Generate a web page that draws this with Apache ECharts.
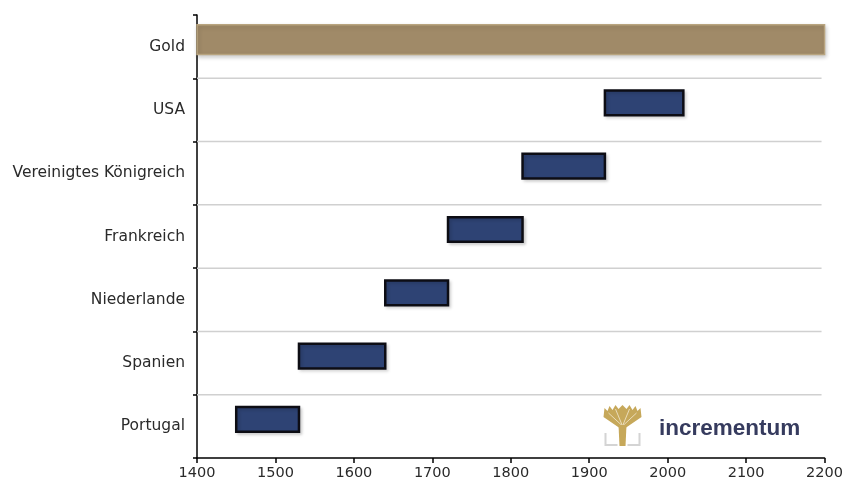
<!DOCTYPE html>
<html>
<head>
<meta charset="utf-8">
<script src="https://cdn.jsdelivr.net/npm/echarts@6/dist/echarts.min.js"></script>
<style>
  html, body { margin: 0; padding: 0; background: #fff; }
  #chart { width: 846px; height: 486px; }
</style>
</head>
<body>
<div id="chart"></div>
<script>
// Reserve-currency eras, bottom to top, plus gold spanning the whole axis
const categories = ['Portugal', 'Spanien', 'Niederlande', 'Frankreich', 'Vereinigtes Königreich', 'USA', 'Gold'];
const periodStart = [1450, 1530, 1640, 1720, 1815, 1920, 1400];
const periodEnd   = [1530, 1640, 1720, 1815, 1920, 2020, 2200];
const xTicks = { min: 1400, max: 2200, interval: 100 };

const goldIndex = categories.indexOf('Gold');
const eraData = [];
const goldData = [];
categories.forEach((c, i) => {
  const row = [i, periodStart[i], periodEnd[i]];
  if (i === goldIndex) goldData.push(row); else eraData.push(row);
});
// separators sit under every row except the bottom one
const separatorRows = categories.map((c, i) => [i]).slice(1);

// Bars sit a little above the category centre
const LIFT = 7;
const LABEL_FONT = '"DejaVu Sans", "Liberation Sans", Arial, sans-serif';

function spanRenderer(heightRatio, style) {
  return function (params, api) {
    const cat = api.value(0);
    const a = api.coord([api.value(1), cat]);
    const b = api.coord([api.value(2), cat]);
    const h = api.size([0, 1])[1] * heightRatio;
    return {
      type: 'rect',
      shape: { x: a[0], y: a[1] - h / 2 - LIFT, width: b[0] - a[0], height: h },
      style: style
    };
  };
}

function separatorRenderer(params, api) {
  const cat = api.value(0);
  const a = api.coord([xTicks.min, cat]);
  const b = api.coord([xTicks.max, cat]);
  const y = a[1] + api.size([0, 1])[1] / 2;
  return {
    type: 'line',
    shape: { x1: a[0], y1: y, x2: b[0] - 3, y2: y },
    style: { stroke: '#d0d0d0', lineWidth: 1.5 }
  };
}

const chart = echarts.init(document.getElementById('chart'), null, { renderer: 'canvas' });

chart.setOption({
  animation: false,
  backgroundColor: '#ffffff',
  grid: { left: 197, right: 21, top: 15, bottom: 28 },
  xAxis: {
    type: 'value',
    min: xTicks.min, max: xTicks.max, interval: xTicks.interval,
    axisLine: { show: true, lineStyle: { color: '#000', width: 1.5 } },
    axisTick: { show: true, length: 5, inside: false, lineStyle: { color: '#000', width: 1.5 } },
    axisLabel: {
      color: '#2a2a2a', fontFamily: LABEL_FONT, fontSize: 14.5, margin: 8,
      formatter: v => String(v)
    },
    splitLine: { show: false }
  },
  yAxis: {
    type: 'category',
    data: categories,
    axisLine: { show: true, lineStyle: { color: '#000', width: 1.5 } },
    axisTick: { show: true, length: 4, lineStyle: { color: '#000', width: 1.5 } },
    axisLabel: { color: '#2a2a2a', fontFamily: LABEL_FONT, fontSize: 15.5, margin: 12 },
    splitLine: { show: false }
  },
  series: [
    {
      type: 'custom',
      name: 'Trennlinien',
      renderItem: separatorRenderer,
      encode: { y: 0 },
      data: separatorRows,
      silent: true,
      z: 1
    },
    {
      type: 'custom',
      name: 'Gold',
      renderItem: spanRenderer(0.47, {
        fill: '#a08a68',
        stroke: '#b8a47f',
        lineWidth: 1.5,
        shadowBlur: 4, shadowOffsetX: 1, shadowOffsetY: 2, shadowColor: 'rgba(0,0,0,0.18)'
      }),
      encode: { x: [1, 2], y: 0 },
      data: goldData,
      z: 3
    },
    {
      type: 'custom',
      name: 'Reservewährung',
      renderItem: spanRenderer(0.39, {
        fill: '#2e4374',
        stroke: '#0d0d14',
        lineWidth: 2.5,
        shadowBlur: 3, shadowOffsetX: 2, shadowOffsetY: 2, shadowColor: 'rgba(0,0,0,0.15)'
      }),
      encode: { x: [1, 2], y: 0 },
      data: eraData,
      z: 3
    }
  ],
  graphic: [
    {
      type: 'group',
      left: 603, top: 405,
      children: [
        // canopy
        {
          type: 'polygon',
          shape: { points: [[20, 25], [1, 12], [2, 3], [5, 6], [7, 1], [10, 5], [13, 0], [16, 4], [20, 0], [24, 4], [27, 0], [30, 5], [33, 1], [35, 6], [38, 3], [39, 12]] },
          style: { fill: '#c6a85a' }
        },
        { type: 'line', shape: { x1: 20, y1: 21, x2: 6, y2: 8 }, style: { stroke: '#f3ead2', lineWidth: 0.8 } },
        { type: 'line', shape: { x1: 20, y1: 21, x2: 13, y2: 4 }, style: { stroke: '#f3ead2', lineWidth: 0.8 } },
        { type: 'line', shape: { x1: 20, y1: 21, x2: 27, y2: 4 }, style: { stroke: '#f3ead2', lineWidth: 0.8 } },
        { type: 'line', shape: { x1: 20, y1: 21, x2: 34, y2: 8 }, style: { stroke: '#f3ead2', lineWidth: 0.8 } },
        // trunk
        { type: 'polygon', shape: { points: [[16, 20], [24, 20], [23, 41], [17, 41]] }, style: { fill: '#c6a85a' } },
        // base brackets
        { type: 'polyline', shape: { points: [[3, 28], [3, 40], [15, 40]] }, style: { stroke: '#d4d4d4', lineWidth: 2, fill: null } },
        { type: 'polyline', shape: { points: [[37, 28], [37, 40], [25, 40]] }, style: { stroke: '#d4d4d4', lineWidth: 2, fill: null } }
      ]
    },
    {
      type: 'text',
      left: 659, top: 417,
      style: {
        text: 'incrementum',
        fill: '#363b5e',
        font: 'bold 22.5px "Liberation Sans", Arial, sans-serif'
      }
    }
  ]
});
</script>
</body>
</html>
